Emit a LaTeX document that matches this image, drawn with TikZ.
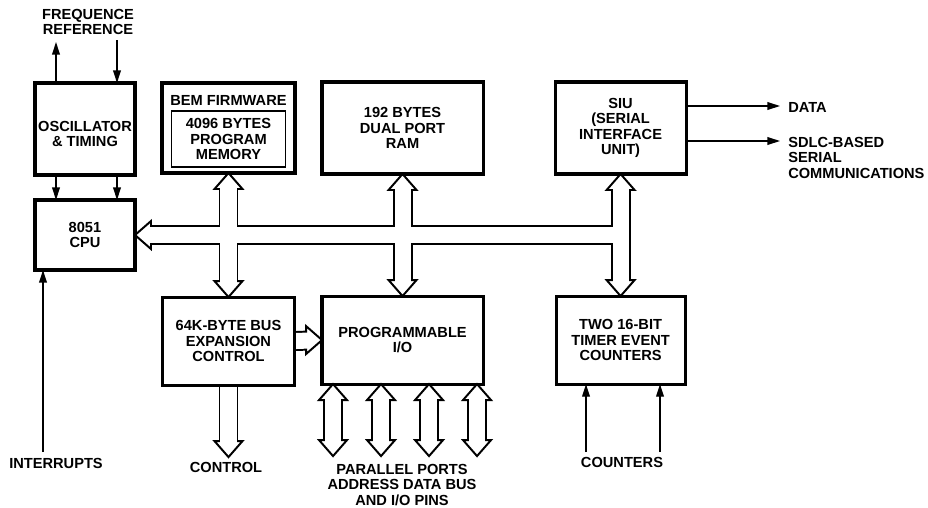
\documentclass[tikz,border=0pt]{standalone}
\usepackage{fontspec}
\setmainfont{Liberation Sans}
\usepackage{tikz}
\usetikzlibrary{positioning,arrows.meta,calc,backgrounds}

\tikzset{
    hollowtip/.pic={\filldraw[fill=white, line width=1.4pt, line join=miter] (0,0) -- (-16,14) -- (-16,-14) -- cycle;}
}

\begin{document}
\begin{tikzpicture}[x=0.025cm, y=-0.025cm,
    font=\fontsize{10.4}{11}\selectfont\bfseries,
    box/.style={draw, line width=2.2pt, inner sep=0pt, outer sep=0pt, align=center},
    lbl/.style={inner sep=0pt, align=center},
    arr/.style={-{Triangle[length=9pt, width=5.5pt]}, line width=1pt},
    busedge/.style={line width=14.2pt},
    busfill/.style={white, line width=11.4pt},
]
    \useasboundingbox (0,0) rectangle (928,507);

    % Top row
    \node[box, minimum width=2.5cm, minimum height=2.3cm] (osc) at (85,129) {};
    \node[lbl] (osctext) at (85,134) {OSCILLATOR\\\& TIMING};
    \node[box, minimum width=2.5cm, minimum height=1.75cm, below=0.625cm of osc] (cpu) {8051\\CPU};
    \node[box, minimum width=3.325cm, minimum height=2.25cm] (fw) at (228.5,128) {};
    \node[lbl] (fwtitle) at ($(fw.north)+(0,17)$) {BEM FIRMWARE};
    \node[draw, line width=1.2pt, inner sep=0pt, align=center,
          minimum width=2.85cm, minimum height=1.4cm] (mem) at ($(fw.center)+(0,11)$) {4096 BYTES\\PROGRAM\\MEMORY};
    \node[box, minimum width=4.025cm, minimum height=2.3cm, right=0.675cm of fw] (ram) {192 BYTES\\DUAL PORT\\RAM};
    \node[box, minimum width=3.275cm, minimum height=2.3cm, right=1.8cm of ram] (siu) {SIU\\(SERIAL\\INTERFACE\\UNIT)};

    % Bottom row
    \node[box, minimum width=3.3cm, minimum height=2.2cm, below=3.1cm of fw] (exp) {64K-BYTE BUS\\EXPANSION\\CONTROL};
    \node[box, minimum width=4.025cm, minimum height=2.2cm, below=3.05cm of ram] (pio) {PROGRAMMABLE\\I/O};
    \node[box, minimum width=3.225cm, minimum height=2.2cm, below=3.05cm of siu] (tmr) {TWO 16-BIT\\TIMER EVENT\\COUNTERS};

    % Outside labels
    \node[lbl] (freq) at (88,22) {FREQUENCE\\REFERENCE};
    \node[lbl, anchor=west] (data) at (788,107) {DATA};
    \node[lbl, anchor=north west, align=left] (sdlc) at (788,137) {SDLC-BASED\\SERIAL\\COMMUNICATIONS};
    \node[lbl] (intr) at (56,463) {INTERRUPTS};
    \node[lbl] (ctl) at (226,467) {CONTROL};
    \node[lbl] (ports) at (402,485) {PARALLEL PORTS\\ADDRESS DATA BUS\\AND I/O PINS};
    \node[lbl] (cnt) at (622,462) {COUNTERS};

    % Free ends
    \coordinate (frefout) at (56,42);
    \coordinate (frefin) at (117,40);
    \coordinate (intin) at (43,452);
    \coordinate (cnta) at (586,452);
    \coordinate (cntb) at (660,452);
    \coordinate (dataout) at (780,106);
    \coordinate (sdlcout) at (780,141);
    \coordinate (ctltip) at ($(exp.south)+(0,72)$);
    \foreach \i/\dx in {1/11, 2/59, 3/107, 4/155} {
        \coordinate (ptop\i) at ($(pio.south west)+(\dx,0)$);
        \coordinate (pbot\i) at ($(pio.south west)+(\dx,72)$);
    }

    % Single line connections
    \draw[arr] (osc.north -| frefout) -- (frefout);
    \draw[arr] (frefin) -- (osc.north -| frefin);
    \draw[arr] (osc.south -| frefout) -- (cpu.north -| frefout);
    \draw[arr] (osc.south -| frefin) -- (cpu.north -| frefin);
    \draw[arr] (intin) -- (cpu.south -| intin);
    \draw[arr] (cnta) -- (tmr.south -| cnta);
    \draw[arr] (cntb) -- (tmr.south -| cntb);
    \draw[arr] (siu.east |- dataout) -- (dataout);
    \draw[arr] (siu.east |- sdlcout) -- (sdlcout);

    % Hollow buses
    \begin{scope}[on background layer]
        \foreach \t/\r in {cpu.east/180, fw.south/90, ram.south/90, siu.south/90,
                           exp.north/-90, pio.north/-90, tmr.north/-90,
                           pio.west/0, ctltip/-90,
                           ptop1/90, ptop2/90, ptop3/90, ptop4/90,
                           pbot1/-90, pbot2/-90, pbot3/-90, pbot4/-90}
            \pic[rotate=\r] at (\t) {hollowtip};

        % outline
        \draw[busedge, shorten <=0.4cm] (cpu.east) -- (siu.south |- cpu.east);
        \foreach \a/\b in {fw.south/exp.north, ram.south/pio.north, siu.south/tmr.north,
                           ptop1/pbot1, ptop2/pbot2, ptop3/pbot3, ptop4/pbot4}
            \draw[busedge, shorten <=0.4cm, shorten >=0.4cm] (\a) -- (\b);
        \draw[busedge, shorten >=0.4cm] (exp.east) -- (pio.west);
        \draw[busedge, shorten >=0.4cm] (exp.south) -- (ctltip);

        % hollow inside
        \draw[busfill, shorten <=9.4pt, shorten >=-2pt] (cpu.east) -- (siu.south |- cpu.east);
        \foreach \a/\b in {fw.south/exp.north, ram.south/pio.north, siu.south/tmr.north,
                           ptop1/pbot1, ptop2/pbot2, ptop3/pbot3, ptop4/pbot4}
            \draw[busfill, shorten <=9.4pt, shorten >=9.4pt] (\a) -- (\b);
        \draw[busfill, shorten <=-2pt, shorten >=9.4pt] (exp.east) -- (pio.west);
        \draw[busfill, shorten <=-2pt, shorten >=9.4pt] (exp.south) -- (ctltip);
    \end{scope}
\end{tikzpicture}
\end{document}
